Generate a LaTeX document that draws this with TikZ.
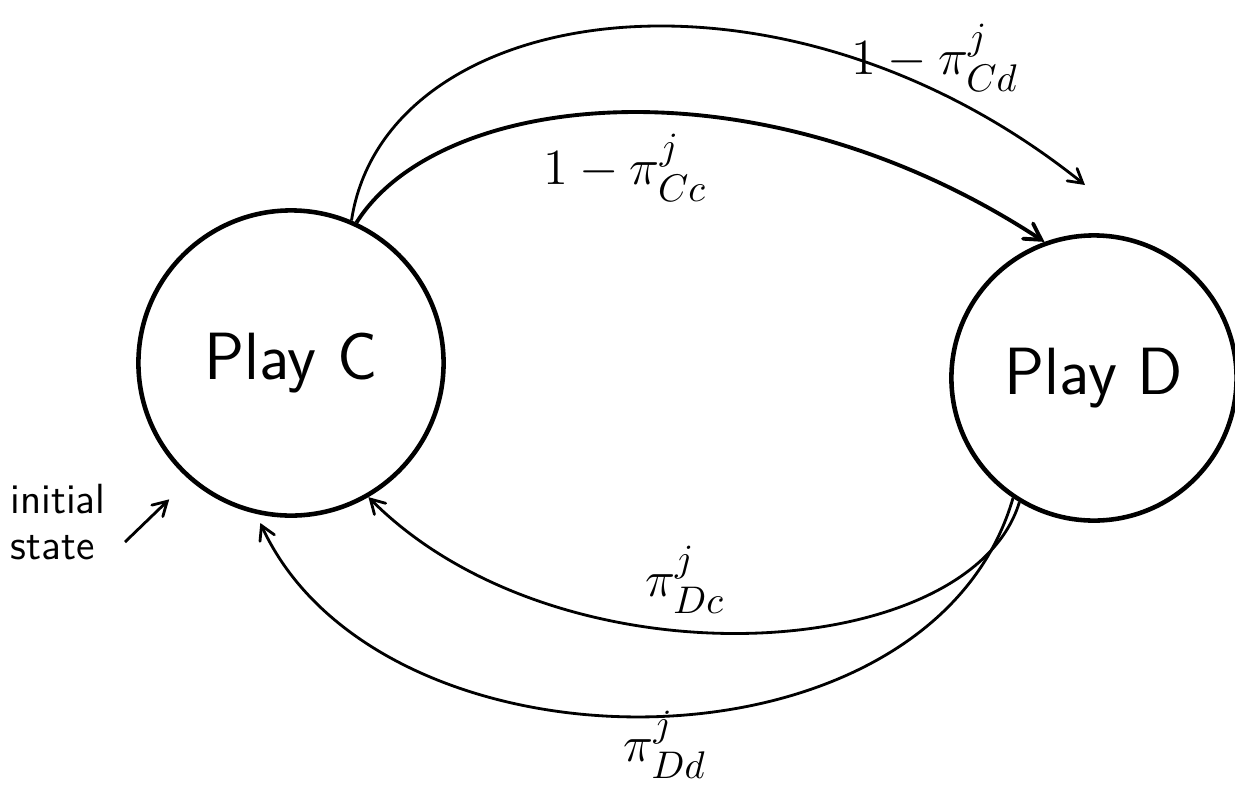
\documentclass[tikz,border=0pt]{standalone}
\usepackage{amsmath}
\usepackage{tikz}
\usetikzlibrary{shapes}
\usetikzlibrary{arrows}
\tikzset{
  state_node/.style = {circle, draw=black, line width=1.3pt, inner sep=0pt,
    font=\sffamily\fontsize{19}{22}\selectfont},% etat du joueur
  move_edge/.style = {->, >=angle 60, line width=1.1pt},% transition
  thin_edge/.style = {move_edge, line width=0.8pt},% transition, trait fin
  prob_label/.style = {inner sep=1pt, font=\fontsize{15}{18}\selectfont},% probabilite
  note_label/.style = {align=left, font=\sffamily\fontsize{12}{13}\selectfont}
}

\begin{document}
\begin{tikzpicture}[x=0.01cm, y=-0.01cm]
  \useasboundingbox (0,0) rectangle (1235,787);
  \node [state_node, minimum size=3.05cm] (playC) at (291,363) {Play C};
  \node [state_node, minimum size=2.85cm] (playD) at (1094,378) {Play D};
  \coordinate (cdEnd) at (1085,185);
  \coordinate (initStart) at (125,542);
  \draw [move_edge] (playC.65) .. controls (440,90) and (760,55) .. (playD.110);
  \draw [thin_edge] (playC.67) .. controls (385,0) and (780,-60) .. (cdEnd);
  \draw [thin_edge] (playD.239) .. controls (970,665) and (560,690) .. (playC.300);
  \draw [thin_edge, shorten >=0.1cm] (playD.236) .. controls (930,785) and (380,785) .. (playC.257);
  \node [prob_label] (ccLabel) at (625,168) {$1-\pi^{j}_{Cc}$};
  \node [prob_label] (cdLabel) at (935,58) {$1-\pi^{j}_{Cd}$};
  \node [prob_label] (dcLabel) at (685,580) {$\pi^{j}_{Dc}$};
  \node [prob_label] (ddLabel) at (665,745) {$\pi^{j}_{Dd}$};
  \node [note_label] (initLabel) at (58,522) {initial\\state};
  \draw [thin_edge, shorten >=0.28cm] (initStart) -- (playC.229);
\end{tikzpicture}
\end{document}
